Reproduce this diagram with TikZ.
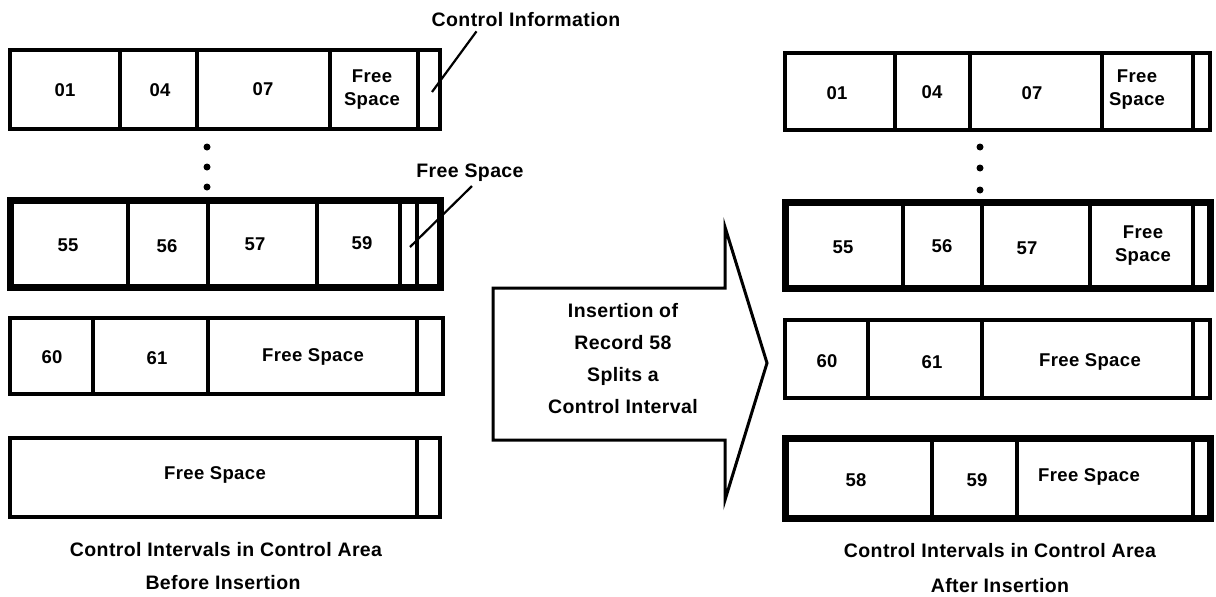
\documentclass[tikz,border=0pt]{standalone}
\usepackage{fontspec}
\setmainfont{Liberation Sans}[LetterSpace=2]
\begin{document}
\begin{tikzpicture}[x=1pt,y=-1pt,
  thinbox/.style={line width=3.5pt},
  thickbox/.style={line width=7pt},
  divider/.style={line width=3.2pt},
  lbl/.style={font=\fontsize{18.5}{23}\selectfont\bfseries, inner sep=0pt, align=center},
  big/.style={font=\fontsize{19.5}{22}\selectfont\bfseries, inner sep=0pt, align=center},
  lead/.style={line width=2.2pt},
  dot/.style={circle, fill=black, inner sep=0pt, minimum size=7pt}]
\useasboundingbox (0,0) rectangle (1216,597);

% ---------- Left column ----------
% row 1
\draw[thinbox] (10,50) rectangle (440,129);
\foreach \x in {120,197,330,418} \draw[divider] (\x,50) -- (\x,129);
\node[lbl] (l1a) at (65,90) {01};
\node[lbl] (l1b) at (160,90) {04};
\node[lbl] (l1c) at (263,89) {07};
\node[lbl] (l1d) at (372,90) {Free\\Space};
\coordinate (l1ci) at (432,92);
% dots
\node[dot] (ld1) at (207,147) {};
\node[dot] (ld2) at (207,167) {};
\node[dot] (ld3) at (207,187) {};
% row 2
\draw[thickbox] (10,200) rectangle (440,287);
\foreach \x in {128,208,317,400,417} \draw[divider] (\x,200) -- (\x,287);
\node[lbl] (l2a) at (68,245) {55};
\node[lbl] (l2b) at (167,246) {56};
\node[lbl] (l2c) at (255,244) {57};
\node[lbl] (l2d) at (362,243) {59};
\coordinate (l2fs) at (410,247);
% row 3
\draw[thinbox] (10,318) rectangle (443,394);
\foreach \x in {93,208,417} \draw[divider] (\x,318) -- (\x,394);
\node[lbl] (l3a) at (52,357) {60};
\node[lbl] (l3b) at (157,358) {61};
\node[lbl] (l3c) at (313,357) {Free Space};
% row 4
\draw[thinbox] (10,438) rectangle (440,517);
\draw[divider] (417,438) -- (417,517);
\node[lbl] (l4a) at (215,475) {Free Space};
% captions
\node[big] (lcap1) at (226,550) {Control Intervals in Control Area};
\node[big] (lcap2) at (223,583) {Before Insertion};

% callouts
\node[big] (ci) at (526,20) {Control Information};
\node[big] (fs) at (470,173) {Free Space};
\draw[lead] (ci.south west) ++(45,4) coordinate (cis) -- (l1ci);
\draw[lead] (fs.south) ++(2,4) coordinate (fss) -- (l2fs);

% ---------- Arrow ----------
\draw[line width=3pt, line join=miter]
  (493,288) -- (725,288) -- (725,227) -- (767,363) -- (725,500) -- (725,440) -- (493,440) -- cycle;
\node[big] (arr) at (623,359) {Insertion of\\[10pt]Record 58\\[10pt]Splits a\\[10pt]Control Interval};

% ---------- Right column ----------
% row 1
\draw[thinbox] (785,53) rectangle (1210,130);
\foreach \x in {895,970,1102,1193} \draw[divider] (\x,53) -- (\x,130);
\node[lbl] (r1a) at (837,93) {01};
\node[lbl] (r1b) at (932,92) {04};
\node[lbl] (r1c) at (1032,93) {07};
\node[lbl] (r1d) at (1137,90) {Free\\Space};
% dots
\node[dot] (rd1) at (980,147) {};
\node[dot] (rd2) at (980,168) {};
\node[dot] (rd3) at (980,190) {};
% row 2
\draw[thickbox] (785,202) rectangle (1210,288);
\foreach \x in {903,982,1090,1193} \draw[divider] (\x,202) -- (\x,288);
\node[lbl] (r2a) at (843,247) {55};
\node[lbl] (r2b) at (942,246) {56};
\node[lbl] (r2c) at (1027,248) {57};
\node[lbl] (r2d) at (1143,246) {Free\\Space};
% row 3
\draw[thinbox] (785,320) rectangle (1210,398);
\foreach \x in {868,982,1193} \draw[divider] (\x,320) -- (\x,398);
\node[lbl] (r3a) at (827,361) {60};
\node[lbl] (r3b) at (932,362) {61};
\node[lbl] (r3c) at (1090,362) {Free Space};
% row 4
\draw[thickbox] (785,438) rectangle (1210,518);
\foreach \x in {932,1017,1193} \draw[divider] (\x,438) -- (\x,518);
\node[lbl] (r4a) at (856,480) {58};
\node[lbl] (r4b) at (977,480) {59};
\node[lbl] (r4c) at (1089,477) {Free Space};
% captions
\node[big] (rcap1) at (1000,551) {Control Intervals in Control Area};
\node[big] (rcap2) at (1000,586) {After Insertion};
\end{tikzpicture}
\end{document}
